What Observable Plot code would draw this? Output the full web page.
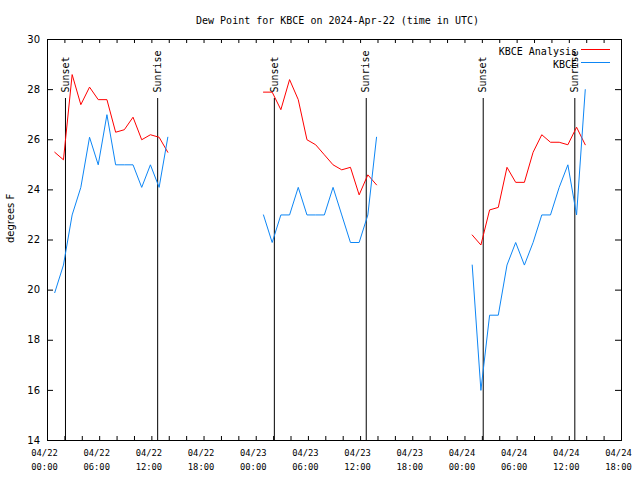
<!DOCTYPE html>
<html>
<head>
<meta charset="utf-8">
<script src="https://cdn.jsdelivr.net/npm/d3@7"></script>
<script src="https://cdn.jsdelivr.net/npm/@observablehq/plot@0.6"></script>
<style>
  body { margin: 0; background: #fff; }
  svg { display: block; }
</style>
</head>
<body>
<div id="chart"></div>
<script>
// ---- data ----
const chartTitle = "Dew Point for KBCE on 2024-Apr-22 (time in UTC)";
const yLabel = "degrees F";
const seriesNames = ["KBCE Analysis", "KBCE"];
const seriesColors = ["#ff0000", "#0d86f5"];

const obsTimes = [
  "2024-04-22T00:50Z","2024-04-22T01:50Z","2024-04-22T02:50Z","2024-04-22T03:50Z","2024-04-22T04:50Z",
  "2024-04-22T05:50Z","2024-04-22T06:50Z","2024-04-22T07:50Z","2024-04-22T08:50Z","2024-04-22T09:50Z",
  "2024-04-22T10:50Z","2024-04-22T11:50Z","2024-04-22T12:50Z","2024-04-22T13:50Z",
  "2024-04-23T00:50Z","2024-04-23T01:50Z","2024-04-23T02:50Z","2024-04-23T03:50Z","2024-04-23T04:50Z",
  "2024-04-23T05:50Z","2024-04-23T06:50Z","2024-04-23T07:50Z","2024-04-23T08:50Z","2024-04-23T09:50Z",
  "2024-04-23T10:50Z","2024-04-23T11:50Z","2024-04-23T12:50Z","2024-04-23T13:50Z",
  "2024-04-24T00:50Z","2024-04-24T01:50Z","2024-04-24T02:50Z","2024-04-24T03:50Z","2024-04-24T04:50Z",
  "2024-04-24T05:50Z","2024-04-24T06:50Z","2024-04-24T07:50Z","2024-04-24T08:50Z","2024-04-24T09:50Z",
  "2024-04-24T10:50Z","2024-04-24T11:50Z","2024-04-24T12:50Z","2024-04-24T13:50Z"
];

const analysisValues = [
  25.5, 25.2, 28.6, 27.4, 28.1, 27.6, 27.6, 26.3, 26.4, 26.9, 26.0, 26.2, 26.1, 25.5,
  27.9, 27.9, 27.2, 28.4, 27.6, 26.0, 25.8, 25.4, 25.0, 24.8, 24.9, 23.8, 24.6, 24.2,
  22.2, 21.8, 23.2, 23.3, 24.9, 24.3, 24.3, 25.5, 26.2, 25.9, 25.9, 25.8, 26.5, 25.8
];

const kbceValues = [
  19.9, 21.0, 23.0, 24.1, 26.1, 25.0, 27.0, 25.0, 25.0, 25.0, 24.1, 25.0, 24.1, 26.1,
  23.0, 21.9, 23.0, 23.0, 24.1, 23.0, 23.0, 23.0, 24.1, 23.0, 21.9, 21.9, 23.0, 26.1,
  21.0, 16.0, 19.0, 19.0, 21.0, 21.9, 21.0, 21.9, 23.0, 23.0, 24.1, 25.0, 23.0, 28.0
];

const sunLabels = ["Sunset", "Sunrise", "Sunset", "Sunrise", "Sunset", "Sunrise"];
const sunTimes = [
  "2024-04-22T02:04Z", "2024-04-22T12:40Z",
  "2024-04-23T02:05Z", "2024-04-23T12:39Z",
  "2024-04-24T02:06Z", "2024-04-24T12:38Z"
];

const xTickTimes = [
  "2024-04-22T00:00Z","2024-04-22T06:00Z","2024-04-22T12:00Z","2024-04-22T18:00Z",
  "2024-04-23T00:00Z","2024-04-23T06:00Z","2024-04-23T12:00Z","2024-04-23T18:00Z",
  "2024-04-24T00:00Z","2024-04-24T06:00Z","2024-04-24T12:00Z","2024-04-24T18:00Z"
];
const yTicks = [14, 16, 18, 20, 22, 24, 26, 28, 30];

// ---- build tables ----
const rows = obsTimes.map((t, i) => ({
  time: new Date(t),
  day: t.slice(0, 10),
  analysis: analysisValues[i],
  kbce: kbceValues[i]
}));
const sunEvents = sunTimes.map((t, i) => ({time: new Date(t), label: sunLabels[i]}));
const xMajor = xTickTimes.map(t => new Date(t));
const xDomain = [xMajor[0], xMajor[xMajor.length - 1]];
const xMinor = d3.utcHour.every(2).range(xDomain[0], new Date(+xDomain[1] + 1));

const mono = "DejaVu Sans Mono";
const sans = "DejaVu Sans";
const fmtTop = d3.utcFormat("%m/%d");
const fmtBot = d3.utcFormat("%H:%M");

const plot = Plot.plot({
  width: 640,
  height: 480,
  marginLeft: 47,
  marginRight: 19,
  marginTop: 39,
  marginBottom: 40,
  style: {fontFamily: mono, fontSize: "10px", background: "white", color: "black"},
  x: {type: "utc", domain: xDomain},
  y: {domain: [14, 30]},
  marks: [
    // tick marks inside the frame (bottom, top, left, right)
    Plot.ruleX(xMinor, {x: d => d, insetTop: 397, stroke: "black"}),
    Plot.ruleX(xMinor, {x: d => d, insetBottom: 397, stroke: "black"}),
    Plot.ruleY(yTicks, {y: d => d, insetRight: 568, stroke: "black"}),
    Plot.ruleY(yTicks, {y: d => d, insetLeft: 568, stroke: "black"}),
    // axes labels
    Plot.axisX({
      ticks: xMajor, tickSize: 0, tickPadding: 6,
      tickFormat: d => fmtTop(d) + "\n" + fmtBot(d),
      fontFamily: mono, fontSize: 8.8, lineHeight: 1.55, dx: -3, label: null
    }),
    Plot.axisY({
      ticks: yTicks, tickSize: 0, tickPadding: 7.5,
      fontFamily: sans, fontSize: 10, label: null
    }),
    // sunrise / sunset lines
    Plot.ruleX(sunEvents, {x: "time", insetTop: 59, stroke: "black"}),
    Plot.text(sunEvents, {
      x: "time", text: "label", frameAnchor: "top", dy: 53,
      rotate: -90, textAnchor: "start", lineAnchor: "middle",
      fontFamily: mono, fontSize: 10, fill: "black"
    }),
    // data
    Plot.line(rows, {x: "time", y: "analysis", z: "day", stroke: seriesColors[0], strokeWidth: 1}),
    Plot.line(rows, {x: "time", y: "kbce", z: "day", stroke: seriesColors[1], strokeWidth: 1}),
    Plot.frame({stroke: "black"}),
    // title & y label
    Plot.text([chartTitle], {
      text: d => d, frameAnchor: "top", dx: 3, dy: -22.5,
      fontFamily: mono, fontSize: 10, fill: "black"
    }),
    Plot.text([yLabel], {
      text: d => d, frameAnchor: "left", rotate: -90, dx: -36.5, dy: 3,
      fontFamily: sans, fontSize: 10, fill: "black"
    }),
    // legend texts
    Plot.text([seriesNames[0]], {
      text: d => d, frameAnchor: "top-right", textAnchor: "end",
      dx: -44.5, dy: 8, fontFamily: mono, fontSize: 10, fill: "black"
    }),
    Plot.text([seriesNames[1]], {
      text: d => d, frameAnchor: "top-right", textAnchor: "end",
      dx: -44.5, dy: 21, fontFamily: mono, fontSize: 10, fill: "black"
    })
  ]
});

// legend swatches (decoration)
const svg = d3.select(plot);
const swatchY = [49.5, 62.5];
seriesColors.forEach((c, i) => {
  svg.append("line")
    .attr("x1", 581).attr("x2", 610)
    .attr("y1", swatchY[i]).attr("y2", swatchY[i])
    .attr("stroke", c).attr("stroke-width", 1);
});

document.getElementById("chart").appendChild(plot);
</script>
</body>
</html>
